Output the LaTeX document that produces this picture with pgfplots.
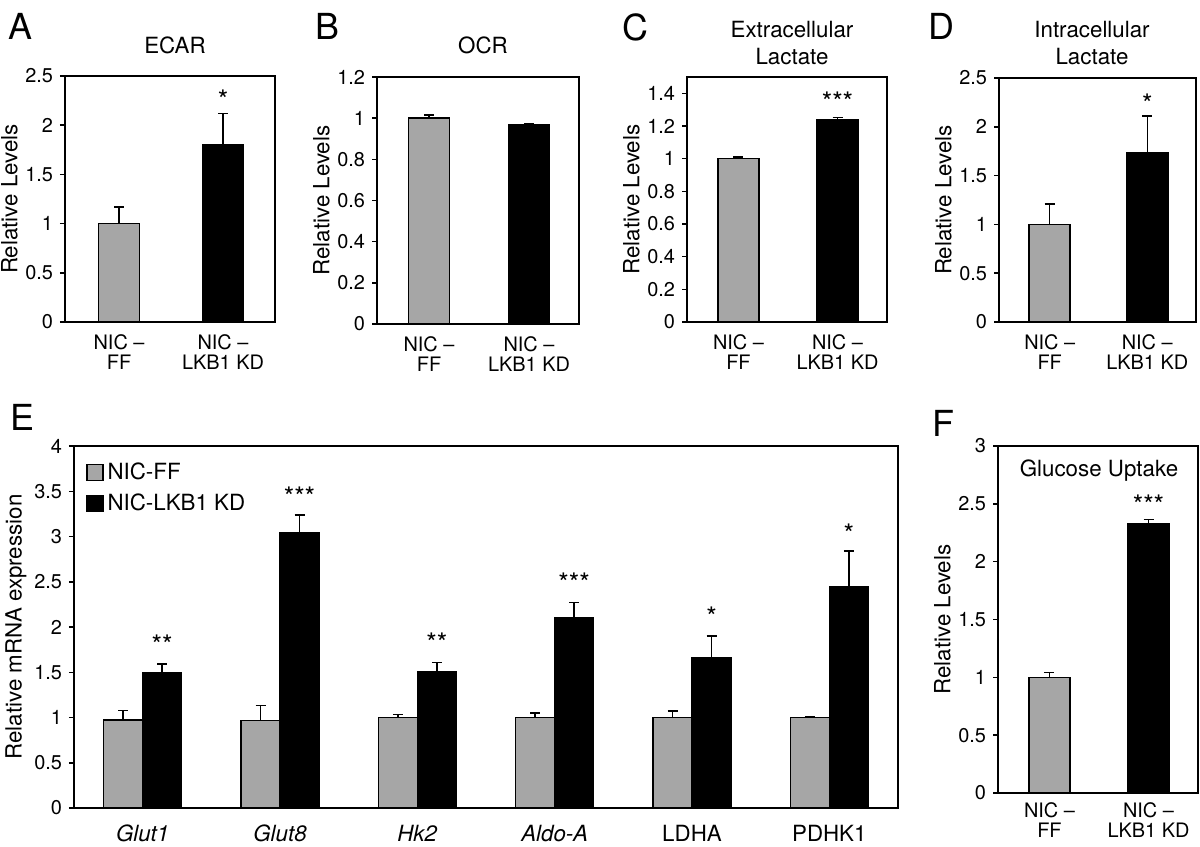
\documentclass[border=0pt]{standalone}
\usepackage{fontspec}
\setmainfont{TeX Gyre Heros}
\usepackage{pgfplots}
\pgfplotsset{compat=1.18}
\definecolor{bargray}{HTML}{A6A6A6}
\pgfplotsset{
  base/.style={
    scale only axis, anchor=south west, clip=false,
    axis line style={line width=0.75bp},
    ymin=0,
    x tick style={draw=none},
    ytick pos=left, tick align=outside, major tick length=2.5bp,
    y tick style={line width=0.75bp, black},
    yticklabel style={font=\fontsize{10}{10}\selectfont},
    /pgf/number format/assume math mode=true,
    ylabel style={font=\fontsize{11.2}{12}\selectfont},
    ylabel shift=-3bp,
    error bars/y dir=plus, error bars/y explicit,
    error bars/error bar style={line width=0.75bp, black},
    error bars/error mark options={rotate=90, line width=0.75bp, mark size=2.5bp, black},
  },
  panel/.style={
    base,
    xtick={0,1},
    xticklabels={{NIC –\\FF},{NIC –\\LKB1 KD}},
    xticklabel style={align=center, font=\fontsize{10}{10}\selectfont, yshift=-2.5bp, inner sep=1pt},
    ylabel={Relative Levels},
    xmin=-0.52, xmax=1.5,
    ybar, bar width=20.5bp,
  },
  graybar/.style={fill=bargray, draw=black, line width=0.75bp, bar shift=0pt},
  blackbar/.style={fill=black, draw=black, line width=0.75bp, bar shift=0pt},
}
\tikzset{
  star/.style={font=\fontsize{13.5}{13.5}\selectfont, inner sep=0pt, yshift=-2.9bp},
  ttl/.style={font=\fontsize{11.2}{12}\selectfont, inner sep=0pt},
  letter/.style={font=\fontsize{18}{18}\selectfont, inner sep=0pt, anchor=north west},
}
\begin{document}
\begin{tikzpicture}
% A
\begin{axis}[panel, at={(32.5bp,-161bp)}, width=105bp, height=123bp,
  ymax=2.5, ytick={0,0.5,1,1.5,2,2.5}]
\addplot[graybar] coordinates {(0,1) +- (0,0.17)};
\addplot[blackbar] coordinates {(1,1.80) +- (0,0.32)};
\node[star] at (axis cs:1,2.32) {*};
\end{axis}
% B
\begin{axis}[panel, at={(188.5bp,-162bp)}, width=101bp, height=123.5bp,
  ymax=1.2, ytick={0,0.2,0.4,0.6,0.8,1,1.2}]
\addplot[graybar] coordinates {(0,1) +- (0,0.015)};
\addplot[blackbar] coordinates {(1,0.97) +- (0,0.005)};
\end{axis}
% C
\begin{axis}[panel, at={(343.5bp,-161bp)}, width=100bp, height=122.5bp,
  ymax=1.5, ytick={0,0.2,0.4,0.6,0.8,1,1.2,1.4}]
\addplot[graybar] coordinates {(0,1) +- (0,0.01)};
\addplot[blackbar] coordinates {(1,1.24) +- (0,0.012)};
\node[star] at (axis cs:1,1.384) {***};
\end{axis}
% D
\begin{axis}[panel, at={(499.5bp,-161bp)}, width=98.5bp, height=122bp,
  ymax=2.5, ytick={0,0.5,1,1.5,2,2.5}]
\addplot[graybar] coordinates {(0,1) +- (0,0.21)};
\addplot[blackbar] coordinates {(1,1.73) +- (0,0.38)};
\node[star] at (axis cs:1,2.295) {*};
\end{axis}
% E
\begin{axis}[base, at={(37bp,-404bp)}, width=412bp, height=181bp,
  xmin=-0.5, xmax=5.5, ymax=4, ytick={0,0.5,1,1.5,2,2.5,3,3.5,4},
  xtick={0,1,2,3,4,5},
  xticklabels={\textit{Glut1},\textit{Glut8},\textit{Hk2},\textit{Aldo-A},LDHA,PDHK1},
  xticklabel style={font=\fontsize{11.2}{12}\selectfont, yshift=-2.5bp},
  ylabel={Relative mRNA expression},
  ybar=0pt, bar width=19.5bp,
  legend style={at={(axis description cs:0,1)}, anchor=north west, draw=none, fill=none,
    xshift=3bp, yshift=-4bp, font=\fontsize{11.2}{12}\selectfont, row sep=2bp},
  legend cell align=left,
]
\addplot[graybar, bar shift=-9.75bp,
  legend image code/.code={\draw[fill=bargray, draw=black, line width=0.6bp] (0bp,-4bp) rectangle (8bp,4bp);}]
  coordinates {(0,0.97) +- (0,0.11) (1,0.965) +- (0,0.165) (2,1.0) +- (0,0.035)
               (3,1.0) +- (0,0.05) (4,1.0) +- (0,0.07) (5,1.0) +- (0,0.01)};
\addplot[blackbar, bar shift=9.75bp,
  legend image code/.code={\draw[fill=black, draw=black, line width=0.6bp] (0bp,-4bp) rectangle (8bp,4bp);}]
  coordinates {(0,1.49) +- (0,0.10) (1,3.04) +- (0,0.20) (2,1.51) +- (0,0.10)
               (3,2.10) +- (0,0.17) (4,1.66) +- (0,0.24) (5,2.45) +- (0,0.39)};
\legend{NIC-FF,NIC-LKB1 KD}
\node[star] at (axis cs:0.142,1.87) {**};
\node[star] at (axis cs:1.142,3.50) {***};
\node[star] at (axis cs:2.142,1.89) {**};
\node[star] at (axis cs:3.142,2.55) {***};
\node[star] at (axis cs:4.142,2.18) {*};
\node[star] at (axis cs:5.142,3.10) {*};
\end{axis}
% F
\begin{axis}[panel, at={(499bp,-396.5bp)}, width=100bp, height=173.5bp,
  ymax=3, ytick={0,0.5,1,1.5,2,2.5,3},
  xticklabel style={yshift=1.5bp}]
\addplot[graybar] coordinates {(0,1) +- (0,0.04)};
\addplot[blackbar] coordinates {(1,2.33) +- (0,0.035)};
\node[star] at (axis cs:1,2.54) {***};
\node[ttl, font=\fontsize{11.2}{12}\selectfont] at (axis cs:0.5,2.79) {Glucose Uptake};
\end{axis}
% titles
\node[ttl] at (87.5bp,-22.5bp) {ECAR};
\node[ttl] at (241.5bp,-22.5bp) {OCR};
\node[ttl] at (396bp,-15bp) {Extracellular};
\node[ttl] at (396bp,-28.5bp) {Lactate};
\node[ttl] at (546bp,-15bp) {Intracellular};
\node[ttl] at (546bp,-28.5bp) {Lactate};
% letters
\node[letter] at (4bp,-6.5bp) {A};
\node[letter] at (157.5bp,-6.5bp) {B};
\node[letter] at (311bp,-6.5bp) {C};
\node[letter] at (464bp,-6.5bp) {D};
\node[letter] at (5bp,-202bp) {E};
\node[letter] at (466bp,-205bp) {F};
\pgfresetboundingbox
\useasboundingbox (0,0) rectangle (600bp,-423.5bp);
\end{tikzpicture}
\end{document}
